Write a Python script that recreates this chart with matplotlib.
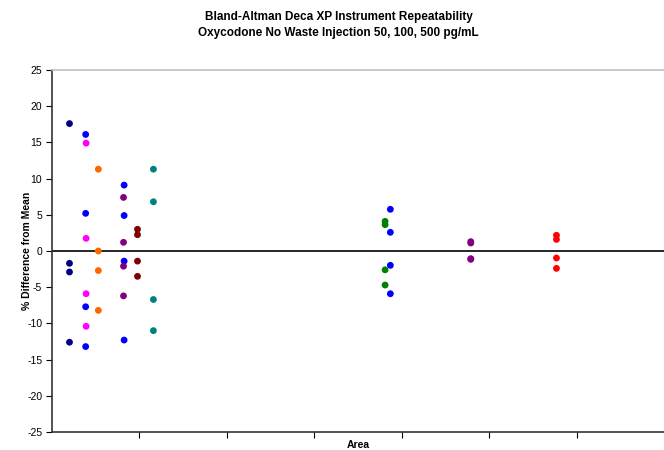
import matplotlib.pyplot as plt
import numpy as np

plt.rcParams['font.family'] = ['Liberation Sans', 'DejaVu Sans']
plt.rcParams['axes.unicode_minus'] = False

# x positions are the mean areas (axis units, tick labels not shown)
navy_x = [0.20, 0.20, 0.20, 0.20]
navy_y = [17.6, -1.7, -2.9, -12.6]
blue1_x = [0.385, 0.385, 0.385, 0.385]
blue1_y = [16.1, 5.2, -7.7, -13.2]
magenta_x = [0.39, 0.39, 0.39, 0.39]
magenta_y = [14.9, 1.75, -5.9, -10.4]
orange_x = [0.53, 0.53, 0.53, 0.53]
orange_y = [11.3, 0.0, -2.7, -8.2]
blue2_x = [0.825, 0.825, 0.825, 0.825]
blue2_y = [9.1, 4.9, -1.4, -12.3]
purple1_x = [0.818, 0.818, 0.818, 0.818]
purple1_y = [7.4, 1.2, -2.1, -6.2]
darkred_x = [0.978, 0.978, 0.978, 0.978]
darkred_y = [3.0, 2.25, -1.4, -3.5]
teal_x = [1.16, 1.16, 1.16, 1.16]
teal_y = [11.3, 6.8, -6.7, -11.0]
blue3_x = [3.87, 3.87, 3.87, 3.87]
blue3_y = [5.76, 2.58, -1.98, -5.9]
green_x = [3.81, 3.81, 3.81, 3.81]
green_y = [4.1, 3.64, -2.6, -4.7]
purple2_x = [4.79, 4.79, 4.79, 4.79]
purple2_y = [1.29, 1.1, -1.06, -1.15]
red_x = [5.77, 5.77, 5.77, 5.77]
red_y = [2.17, 1.6, -0.97, -2.4]

series = [
    (navy_x, navy_y, '#000080'),
    (blue1_x, blue1_y, '#0000ff'),
    (magenta_x, magenta_y, '#ff00ff'),
    (orange_x, orange_y, '#ff6600'),
    (blue2_x, blue2_y, '#0000ff'),
    (purple1_x, purple1_y, '#800080'),
    (darkred_x, darkred_y, '#800000'),
    (teal_x, teal_y, '#008080'),
    (blue3_x, blue3_y, '#0000ff'),
    (green_x, green_y, '#008000'),
    (purple2_x, purple2_y, '#800080'),
    (red_x, red_y, '#ff0000'),
]

fig = plt.figure(figsize=(6.64, 4.5), dpi=100)
ax = fig.add_axes([52 / 664, 18 / 450, 612 / 664, 362 / 450])

for xs, ys, c in series:
    ax.scatter(xs, ys, s=24, color=c, edgecolors='none', zorder=3)

# zero line
ax.axhline(0, color='black', linewidth=1.2, zorder=2)

ax.set_xlim(0, 7)
ax.set_ylim(-25, 25)
ax.set_yticks(np.arange(-25, 26, 5))
ax.set_xticks(np.arange(1, 7))
ax.set_xticklabels([])

ax.spines['right'].set_visible(False)
ax.spines['top'].set_color('#c0c0c0')
ax.spines['top'].set_linewidth(1.2)
ax.spines['left'].set_color('#333333')
ax.spines['bottom'].set_color('#333333')
ax.spines['left'].set_linewidth(1.2)
ax.spines['bottom'].set_linewidth(1.2)
ax.tick_params(axis='y', direction='out', length=4, labelsize=7.5, pad=3)
ax.tick_params(axis='x', direction='out', length=4)

ax.set_ylabel('% Difference from Mean', fontsize=7.5, fontweight='bold')
ax.yaxis.set_label_coords(-20 / 612, 0.5)
ax.set_xlabel('Area', fontsize=7.5, fontweight='bold')
ax.xaxis.set_label_coords(0.5, -8 / 362)

fig.text(0.51, 0.962, 'Bland-Altman Deca XP Instrument Repeatability',
         ha='center', va='center', fontsize=8.5, fontweight='bold')
fig.text(0.51, 0.926, 'Oxycodone No Waste Injection 50, 100, 500 pg/mL',
         ha='center', va='center', fontsize=8.5, fontweight='bold')

fig.savefig('out.png', dpi=100)
